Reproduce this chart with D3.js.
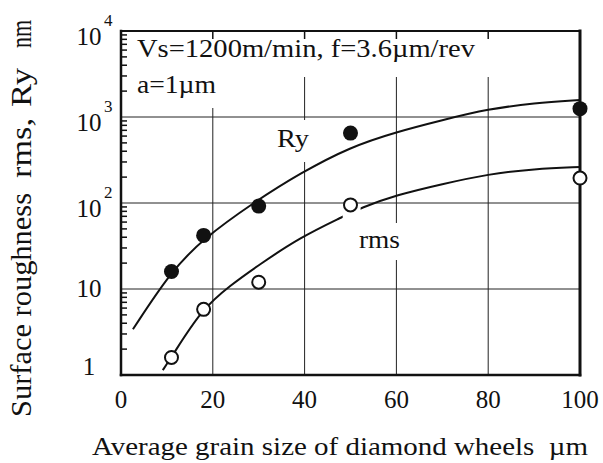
<!DOCTYPE html>
<html>
<head>
<meta charset="utf-8">
<script src="https://cdn.jsdelivr.net/npm/d3@7"></script>
<style>
  body { margin: 0; background: #fff; }
  text { font-family: "Liberation Serif", "Times New Roman", serif; fill: #111; }
</style>
</head>
<body>
<svg width="603" height="463"></svg>
<script>
// tick values
const xTicks = [0, 20, 40, 60, 80, 100];
const yTicks = [1, 10, 100, 1000, 10000];
const yTickBase = ["1", "10", "10", "10", "10"];
const yTickExp = ["", "", "2", "3", "4"];

// measured points
const ryX = [11, 18, 30, 50, 100];
const ryY = [16, 42, 92, 650, 1250];
const rmsX = [11, 18, 30, 50, 100];
const rmsY = [1.6, 5.8, 12, 95, 195];

// fitted curves
const ryFitX = [2.6, 10.9, 17.8, 29.1, 39.1, 50, 60, 70, 80, 90, 100];
const ryFitY = [3.4, 16, 38, 103, 223, 450, 670, 920, 1240, 1450, 1580];
const rmsFitX = [9.1, 10.9, 17.6, 23.9, 30, 39.1, 48.3, 52.2, 60, 70, 80, 90, 100];
const rmsFitY = [1.14, 1.58, 5.85, 11.1, 19, 40, 69, 87.5, 124, 166, 217, 249, 262];
const rmsGap = [48.3, 52.2];

const sv = d3.select("svg");
const x = d3.scaleLinear().domain([0, 100]).range([121, 580]);
const y = d3.scaleLog().domain([1, 10000]).range([375, 31]);
const x0 = x(0), x1 = x(100), y0 = y(1), y1 = y(10000);

// grid
sv.append("g").selectAll("line")
    .data(xTicks.slice(1, -1))
    .enter().append("line")
    .attr("x1", d => x(d)).attr("x2", d => x(d))
    .attr("y1", y1).attr("y2", y0)
    .attr("stroke", "#222").attr("stroke-width", 1);
sv.append("g").selectAll("line")
    .data(yTicks.slice(1, -1))
    .enter().append("line")
    .attr("x1", x0).attr("x2", x1)
    .attr("y1", d => y(d)).attr("y2", d => y(d))
    .attr("stroke", "#222").attr("stroke-width", 1);

// white boxes behind labels
const bg = sv.append("g").attr("fill", "#fff");
bg.append("rect").attr("x", x0 + 1).attr("y", y1 + 1).attr("width", x1 - x0 - 3).attr("height", 45);
bg.append("rect").attr("x", x0 + 1).attr("y", y1 + 40).attr("width", 104).attr("height", 37);
bg.append("rect").attr("x", 272).attr("y", 120).attr("width", 42).attr("height", 42);
bg.append("rect").attr("x", 355).attr("y", 223).attr("width", 49).attr("height", 37);

// minor ticks on left axis
const minor = [];
[1, 10, 100, 1000].forEach(function (d) {
    for (let k = 2; k <= 9; k++) minor.push(d * k);
});
sv.append("g").selectAll("line")
    .data(minor)
    .enter().append("line")
    .attr("x1", x0).attr("x2", x0 + 6)
    .attr("y1", d => y(d)).attr("y2", d => y(d))
    .attr("stroke", "#111").attr("stroke-width", 1.5);

// top ticks
sv.append("g").selectAll("line")
    .data(xTicks.slice(1, -1))
    .enter().append("line")
    .attr("x1", d => x(d)).attr("x2", d => x(d))
    .attr("y1", y1).attr("y2", y1 + 8)
    .attr("stroke", "#111").attr("stroke-width", 1.5);

// frame
const fr = sv.append("g").attr("stroke", "#111").attr("stroke-linecap", "square");
fr.append("line").attr("x1", x0).attr("x2", x1).attr("y1", y1).attr("y2", y1).attr("stroke-width", 2);
fr.append("line").attr("x1", x0).attr("x2", x1).attr("y1", y0).attr("y2", y0).attr("stroke-width", 2.5);
fr.append("line").attr("x1", x0).attr("x2", x0).attr("y1", y1).attr("y2", y0).attr("stroke-width", 2.5);
fr.append("line").attr("x1", x1).attr("x2", x1).attr("y1", y1).attr("y2", y0).attr("stroke-width", 3);

// curves
const ln = d3.line()
    .x(d => x(d[0]))
    .y(d => y(d[1]))
    .curve(d3.curveBasis);

const clip = sv.append("clipPath").attr("id", "rmsclip");
clip.append("rect").attr("x", 0).attr("y", 0).attr("width", x(rmsGap[0])).attr("height", 463);
clip.append("rect").attr("x", x(rmsGap[1])).attr("y", 0).attr("width", 603 - x(rmsGap[1])).attr("height", 463);

sv.append("path")
    .datum(d3.zip(ryFitX, ryFitY))
    .attr("d", ln)
    .attr("fill", "none").attr("stroke", "#111").attr("stroke-width", 2);
sv.append("path")
    .datum(d3.zip(rmsFitX, rmsFitY))
    .attr("d", ln)
    .attr("clip-path", "url(#rmsclip)")
    .attr("fill", "none").attr("stroke", "#111").attr("stroke-width", 2);

// markers
sv.append("g").selectAll("circle")
    .data(d3.zip(ryX, ryY))
    .enter().append("circle")
    .attr("cx", d => x(d[0])).attr("cy", d => y(d[1]))
    .attr("r", 7.5).attr("fill", "#111");
sv.append("g").selectAll("circle")
    .data(d3.zip(rmsX, rmsY))
    .enter().append("circle")
    .attr("cx", d => x(d[0])).attr("cy", d => y(d[1]))
    .attr("r", 6.5).attr("fill", "#fff")
    .attr("stroke", "#111").attr("stroke-width", 2);

// x tick labels
sv.append("g").selectAll("text")
    .data(xTicks)
    .enter().append("text")
    .attr("x", d => x(d)).attr("y", 408)
    .attr("text-anchor", "middle")
    .attr("font-size", 25)
    .text(d => d);

// y tick labels
const yl = sv.append("g").selectAll("g")
    .data(yTicks)
    .enter().append("g");
yl.append("text")
    .attr("x", 89)
    .attr("y", (d, i) => y(d) + (yTickExp[i] ? 14 : (i === 0 ? 0 : 8)))
    .attr("text-anchor", "middle")
    .attr("font-size", 25)
    .text((d, i) => yTickBase[i]);
yl.append("text")
    .attr("x", 104)
    .attr("y", d => y(d) - 5)
    .attr("font-size", 17)
    .text((d, i) => yTickExp[i]);

// annotations
sv.append("text").attr("x", 137).attr("y", 57).attr("font-size", 25)
    .attr("textLength", 338).attr("lengthAdjust", "spacingAndGlyphs")
    .text("Vs=1200m/min, f=3.6\u00b5m/rev");
sv.append("text").attr("x", 137).attr("y", 93).attr("font-size", 25)
    .attr("textLength", 79).attr("lengthAdjust", "spacingAndGlyphs")
    .text("a=1\u00b5m");
sv.append("text").attr("x", 277).attr("y", 147).attr("font-size", 25)
    .attr("textLength", 32).attr("lengthAdjust", "spacingAndGlyphs")
    .text("Ry");
sv.append("text").attr("x", 359).attr("y", 248).attr("font-size", 25)
    .attr("textLength", 41).attr("lengthAdjust", "spacingAndGlyphs")
    .text("rms");

// axis titles
sv.append("text").attr("x", 92).attr("y", 455).attr("font-size", 26)
    .attr("textLength", 496).attr("lengthAdjust", "spacingAndGlyphs")
    .style("white-space", "pre")
    .text("Average grain size of diamond wheels  \u00b5m");

const yt = sv.append("g").attr("transform", "translate(31,0) scale(1.12,1)");
yt.append("text").attr("transform", "translate(0,417) rotate(-90)")
    .attr("font-size", 27)
    .attr("textLength", 224).attr("lengthAdjust", "spacingAndGlyphs")
    .text("Surface roughness");
yt.append("text").attr("transform", "translate(0,178) rotate(-90)")
    .attr("font-size", 27)
    .attr("textLength", 60).attr("lengthAdjust", "spacingAndGlyphs")
    .text("rms,");
yt.append("text").attr("transform", "translate(0,107) rotate(-90)")
    .attr("font-size", 27)
    .attr("textLength", 39).attr("lengthAdjust", "spacingAndGlyphs")
    .text("Ry");
yt.append("text").attr("transform", "translate(0,48) rotate(-90)")
    .attr("font-size", 27)
    .attr("textLength", 28).attr("lengthAdjust", "spacingAndGlyphs")
    .text("nm");
</script>
</body>
</html>
